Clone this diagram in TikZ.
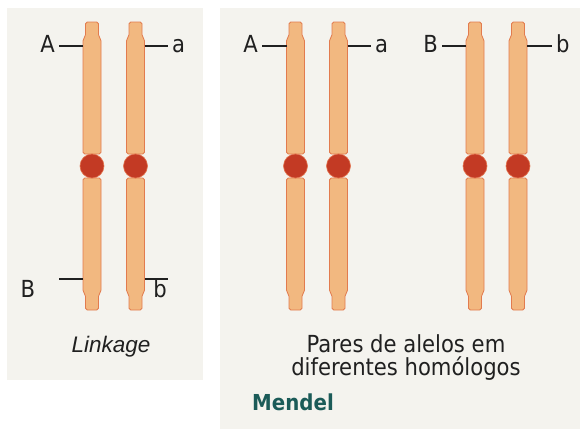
\documentclass[tikz,border=0pt]{standalone}
\usepackage{fontspec}
\setmainfont{DejaVu Sans Condensed}
\newfontfamily\linkfont{Liberation Sans}

\definecolor{panelbg}{HTML}{F4F3EE}
\definecolor{chromfill}{HTML}{F2B880}
\definecolor{chromline}{HTML}{E27B4E}
\definecolor{cenfill}{HTML}{C33A24}
\definecolor{cenline}{HTML}{E2704A}
\definecolor{ink}{HTML}{202020}
\definecolor{teal}{HTML}{1B5B58}

\begin{document}
\begin{tikzpicture}[x=1pt, y=-1pt,
  panel/.style={fill=panelbg, draw=none},
  arm/.style={fill=chromfill, draw=chromline, line width=0.8pt, rounded corners=1.8pt},
  cen/.style={circle, fill=cenfill, draw=cenline, line width=0.6pt, minimum size=24pt, inner sep=0pt},
  tick/.style={draw=ink, line width=1.8pt},
  lbl/.style={text=ink, font=\fontsize{23.5}{25}\selectfont, inner ysep=0pt, inner xsep=4pt},
  chromo/.pic={
    % upper arm with narrow telomere tip
    \draw[arm] (-9,154) -- (-9,39) -- (-6.5,36.5) -- (-6.5,22) -- (6.5,22)
               -- (6.5,36.5) -- (9,39) -- (9,154) -- cycle;
    % lower arm with narrow telomere tip
    \draw[arm] (-9,178) -- (-9,292) -- (-6.5,294.5) -- (-6.5,310) -- (6.5,310)
               -- (6.5,294.5) -- (9,292) -- (9,178) -- cycle;
    % centromere
    \node[cen] (-c) at (0,166) {};
    \coordinate (-tl) at (-9,46);
    \coordinate (-tr) at (9,46);
    \coordinate (-bl) at (-9,279);
    \coordinate (-br) at (9,279);
  }]
  \useasboundingbox (0,0) rectangle (582,429);

  % panels
  \path[panel] (7,8) rectangle (203,380);
  \path[panel] (220,8) rectangle (580,429);

  % linkage pair
  \pic (l1) at (92,0) {chromo};
  \pic (l2) at (135.5,0) {chromo};

  \node[lbl, anchor=base east] (LA) at (59,52) {A};
  \node[lbl, anchor=base west] (La) at (168,52) {a};
  \draw[tick] (l1-tl) -- (LA.east |- l1-tl);
  \draw[tick] (l2-tr) -- (La.west |- l2-tr);

  \node[lbl, anchor=base] (LB) at (28,297) {B};
  \node[lbl, anchor=base] (Lb) at (160,297) {b};
  \coordinate (LBend) at (59,279);
  \coordinate (Lbend) at (168,279);
  \draw[tick] (l1-bl) -- (LBend);
  \draw[tick] (l2-br) -- (Lbend);

  \node[anchor=base, inner sep=0pt, text=ink,
        font=\linkfont\itshape\fontsize{22.5}{24}\selectfont] (link) at (111,352) {Linkage};

  % independent pairs
  \pic (m1) at (295.5,0) {chromo};
  \pic (m2) at (338.5,0) {chromo};
  \pic (m3) at (475,0) {chromo};
  \pic (m4) at (518,0) {chromo};

  \node[lbl, anchor=base east] (MA) at (262,52) {A};
  \node[lbl, anchor=base west] (Ma) at (371,52) {a};
  \node[lbl, anchor=base east] (MB) at (442,52) {B};
  \node[lbl, anchor=base west] (Mb) at (552,52) {b};
  \draw[tick] (m1-tl) -- (MA.east |- m1-tl);
  \draw[tick] (m2-tr) -- (Ma.west |- m2-tr);
  \draw[tick] (m3-tl) -- (MB.east |- m3-tl);
  \draw[tick] (m4-tr) -- (Mb.west |- m4-tr);

  \node[anchor=north, inner sep=0pt, align=center, text=ink,
        font=\fontsize{23.5}{23.5}\selectfont] (pairs) at (406,334)
        {Pares de alelos em\\diferentes homólogos};

  \node[anchor=base west, inner sep=0pt, text=teal,
        font=\bfseries\fontsize{22}{24}\selectfont] (mendel) at (252,410) {Mendel};
\end{tikzpicture}
\end{document}
